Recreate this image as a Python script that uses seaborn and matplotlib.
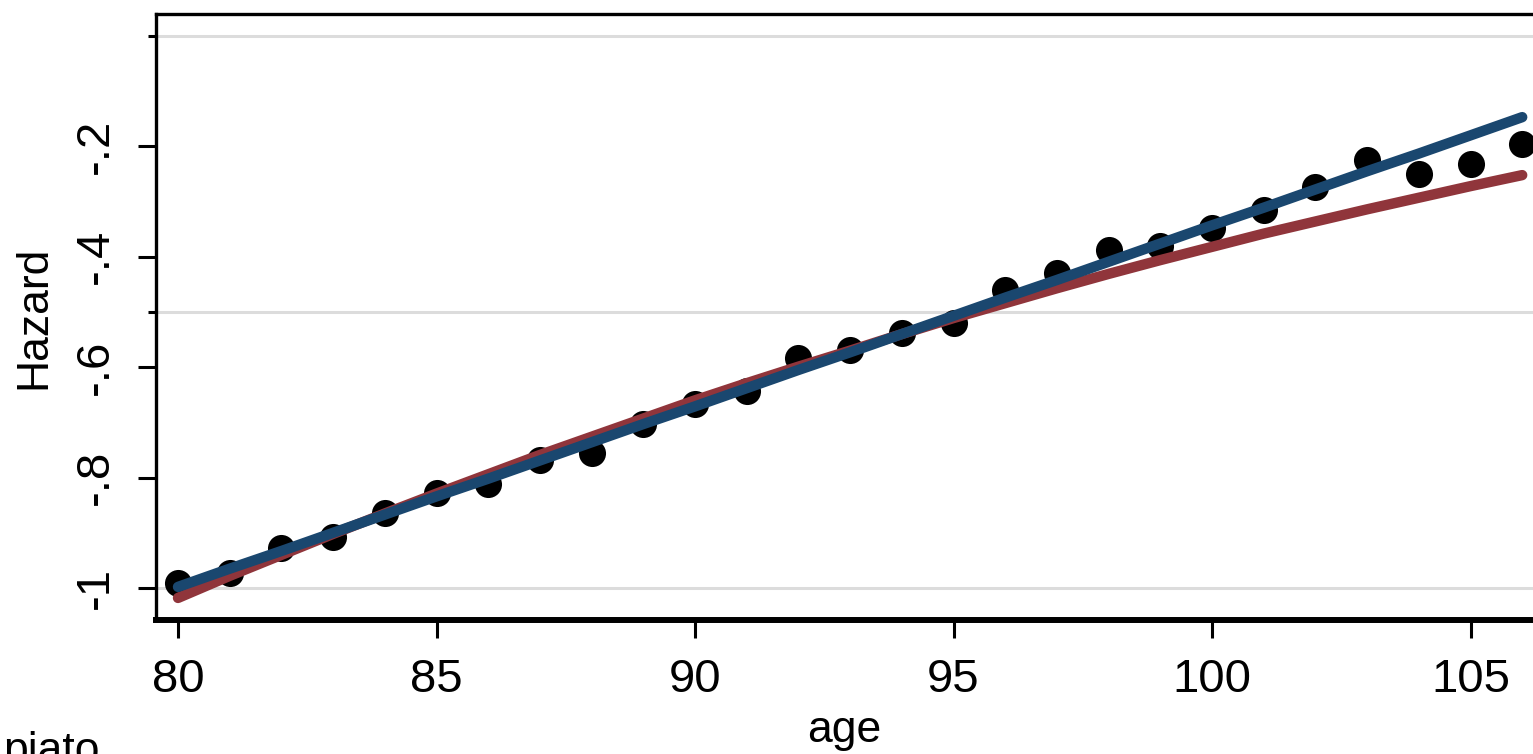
import matplotlib
matplotlib.use("Agg")
import matplotlib.pyplot as plt
import seaborn as sns
import pandas as pd

# ---- data ----
ages = list(range(80, 107))
observed = [-0.991, -0.973, -0.928, -0.908, -0.864, -0.828, -0.811, -0.768, -0.755,
            -0.703, -0.667, -0.643, -0.583, -0.569, -0.538, -0.520, -0.460, -0.429,
            -0.387, -0.381, -0.348, -0.315, -0.273, -0.225, -0.250, -0.232, -0.196]
fit_red = [-1.018, -0.978, -0.940, -0.902, -0.865, -0.829, -0.794, -0.759, -0.726,
           -0.693, -0.660, -0.629, -0.599, -0.570, -0.540, -0.511, -0.484, -0.457,
           -0.431, -0.406, -0.382, -0.358, -0.336, -0.314, -0.293, -0.272, -0.252]
fit_blue = [-0.998, -0.965, -0.933, -0.900, -0.867, -0.834, -0.802, -0.769, -0.736,
            -0.703, -0.671, -0.638, -0.605, -0.573, -0.540, -0.507, -0.474, -0.442,
            -0.409, -0.376, -0.343, -0.311, -0.278, -0.245, -0.213, -0.180, -0.147]
xticks = [80, 85, 90, 95, 100, 105]
yticks = [-1, -0.8, -0.6, -0.4, -0.2]
ytick_labels = ["-1", "-.8", "-.6", "-.4", "-.2"]
minor_yticks = [-0.5, 0]
grid_y = [-1, -0.5, 0]

sns.set_style("white")
plt.rcParams["font.family"] = ["Liberation Sans", "DejaVu Sans"]
plt.rcParams["text.color"] = "black"
plt.rcParams["axes.labelcolor"] = "black"
plt.rcParams["xtick.color"] = "black"
plt.rcParams["ytick.color"] = "black"

W, H = 1533, 754
fig = plt.figure(figsize=(W / 100, H / 100), dpi=100)
ax = fig.add_axes([155.5 / W, 1 - 620 / H, 1 - 155.5 / W, (620 - 14) / H])

df = pd.DataFrame({"age": ages, "observed": observed,
                   "fit_red": fit_red, "fit_blue": fit_blue})

for g in grid_y:
    ax.axhline(g, color="#dcdcdc", lw=2.2, zorder=0)

sns.scatterplot(data=df, x="age", y="observed", color="black", s=380,
                marker="o", linewidth=0, ax=ax, zorder=2)
sns.lineplot(data=df, x="age", y="fit_red", color="#90353b", lw=7.5,
             ax=ax, zorder=3)
sns.lineplot(data=df, x="age", y="fit_blue", color="#1a476f", lw=7.5,
             ax=ax, zorder=4)

x0 = 80 - 22.5 / 51.7
ax.set_xlim(x0, x0 + (W - 155.5) / 51.7)
ax.set_ylim(-1 - 32 / 552, 22 / 552)

ax.set_xticks(xticks)
ax.set_yticks(yticks, ytick_labels)
ax.set_yticks(minor_yticks, minor=True)

ax.tick_params(axis="both", which="major", length=13, width=2.2,
               color="black", labelcolor="black", labelsize=34, direction="out")
ax.tick_params(axis="x", pad=14)
ax.tick_params(axis="y", pad=14, labelrotation=90)
ax.tick_params(axis="y", which="minor", length=6, width=2.2, color="black",
               direction="out", left=True)
ax.tick_params(left=True, bottom=True)
for lab in ax.get_yticklabels():
    lab.set_va("center")

for side in ["left", "top"]:
    ax.spines[side].set_visible(True)
    ax.spines[side].set_color("black")
    ax.spines[side].set_linewidth(2.4)
ax.spines["bottom"].set_color("black")
ax.spines["bottom"].set_linewidth(4.3)
ax.spines["right"].set_visible(False)

ax.set_xlabel("age", fontsize=32, labelpad=6, color="black")
ax.set_ylabel("Hazard", fontsize=32, labelpad=14, color="black")

fig.text(0.002, (H - 763) / H, "piato", fontsize=32, ha="left",
         va="baseline", color="black")

fig.savefig("out.png", dpi=100)
